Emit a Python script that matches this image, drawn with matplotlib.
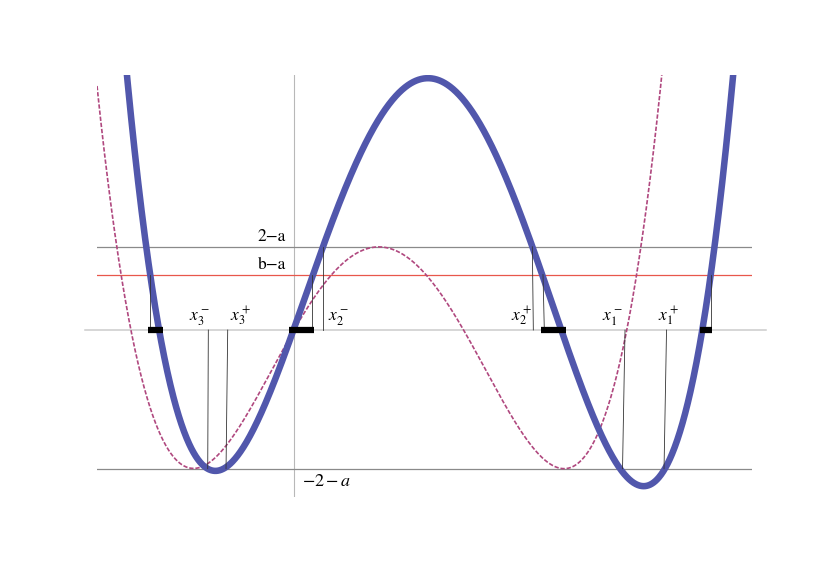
import numpy as np
import matplotlib
matplotlib.use('Agg')
import matplotlib.pyplot as plt

plt.rcParams['font.family'] = ['STIXGeneral', 'DejaVu Sans']
plt.rcParams['mathtext.fontset'] = 'stix'

# Параметры уровней
a = 0.5
b = 1.5

# Точки толстой синей кривой
blue_x = [-3.009, -2.649, -2.582, -2.468, -1.550, -1.405, -1.225, -0.018, 0.324, 0.523,
          2.432, 4.306, 4.486, 4.757, 5.910, 6.306, 6.667, 7.351, 7.532, 7.568, 7.910]
blue_y = [4.595, 1.5, 1.0, 0.0, -2.5, -2.532, -2.5, 0.0, 1.0, 1.5,
          4.523, 1.5, 1.0, 0.0, -2.5, -2.757, -2.5, 0.0, 1.0, 1.5, 4.595]

# Точки пунктирной кривой (минимумы, максимум и край с большим весом)
dash_x = [-3.544, -3.171, -3.099, -2.901, -1.820, 0.018, 1.550, 4.883, 5.982, 6.144, 6.288, 6.625]
dash_y = [4.324, 1.5, 1.0, 0.0, -2.5, 0.0, 1.5, -2.5, 0.0, 1.0, 1.5, 4.595]
dash_w = [4, 1, 1, 1, 6, 1, 6, 6, 1, 1, 1, 2]

# Вертикальные отрезки: x сверху, x снизу, уровень сверху, уровень снизу
seg_x_top = [-2.595, 0.324, 4.486, 7.508, 0.528, 4.294, -1.544, -1.195, 5.964, 6.712]
seg_x_bot = [-2.595, 0.324, 4.510, 7.508, 0.528, 4.312, -1.555, -1.225, 5.919, 6.667]
seg_y_top = [b - a, b - a, b - a, b - a, 2 - a, 2 - a, 0, 0, 0, 0]
seg_y_bot = [0, 0, 0, 0, 0, 0, -2 - a, -2 - a, -2 - a, -2 - a]

# Черные отрезки на оси
bar_left = [-2.631, -0.090, 4.450, 7.315]
bar_right = [-2.360, 0.360, 4.901, 7.532]

# Подписи корней
root_labels = [r'$x_3^-$', r'$x_3^+$', r'$x_2^-$', r'$x_2^+$', r'$x_1^-$', r'$x_1^+$']
root_label_x = [-1.71, -0.973, 0.793, 4.09, 5.73, 6.74]

x_min, x_max = -3.550, 8.252
y_min, y_max = -3.009, 4.595

fig = plt.figure(figsize=(8.3, 5.87), dpi=100)
ax = fig.add_axes([97 / 830, 90 / 587, 655 / 830, 422 / 587])
ax.set_xlim(x_min, x_max)
ax.set_ylim(y_min, y_max)
ax.axis('off')

# Оси
ax.plot([-3.766, 8.505], [0, 0], color='#cccccc', lw=1.1, clip_on=False, zorder=1)
ax.axvline(0, color='#b8b8b8', lw=0.8, zorder=1)

# Горизонтальные уровни
ax.axhline(2 - a, color='#8a8a8a', lw=0.9, zorder=1)
ax.axhline(-2 - a, color='#8a8a8a', lw=0.9, zorder=1)
ax.axhline(b - a, color='#e8574b', lw=0.9, zorder=1)

# Кривые (полином 4-й степени по считанным точкам)
xs = np.linspace(x_min, x_max, 1500)
blue_coef = np.polyfit(blue_x, blue_y, 4)
dash_coef = np.polyfit(dash_x, dash_y, 4, w=dash_w)
ax.plot(xs, np.polyval(dash_coef, xs), color='#b0487f', lw=1.2,
        dashes=(2.6, 1.1), zorder=3)
ax.plot(xs, np.polyval(blue_coef, xs), color='#5157ac', lw=4.7, zorder=4)

# Вертикальные отрезки
for xt, xb, yt, yb in zip(seg_x_top, seg_x_bot, seg_y_top, seg_y_bot):
    ax.plot([xt, xb], [yt, yb], color='#333333', lw=0.6, zorder=5)

# Черные отрезки
for xl, xr in zip(bar_left, bar_right):
    ax.plot([xl, xr], [0, 0], color='black', lw=4.5, solid_capstyle='butt', zorder=6)

# Подписи
for lab, lx in zip(root_labels, root_label_x):
    ax.text(lx, 0.03, lab, fontsize=12.5, ha='center', va='bottom', zorder=7)

ax.text(-0.402, 1.68, '2\u2212a', fontsize=12.5, ha='center', va='center')
ax.text(-0.396, 1.17, 'b\u2212a', fontsize=12.5, ha='center', va='center')
ax.text(0.595, -2.74, r'$-2-a$', fontsize=13, ha='center', va='center')

fig.savefig('out.png', dpi=100)
